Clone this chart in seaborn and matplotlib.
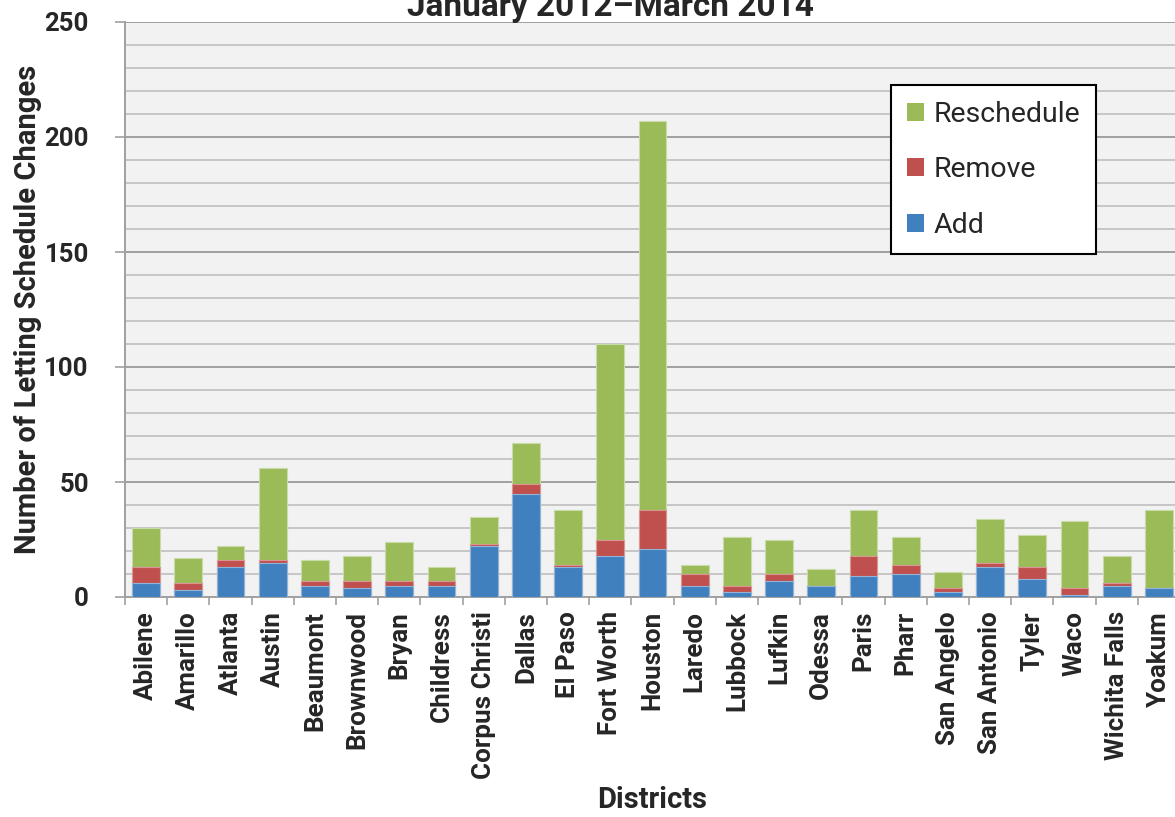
import matplotlib
matplotlib.use("Agg")
import matplotlib.pyplot as plt
import seaborn as sns
import numpy as np
import pandas as pd
from matplotlib.patches import Patch

districts = ["Abilene", "Amarillo", "Atlanta", "Austin", "Beaumont", "Brownwood",
             "Bryan", "Childress", "Corpus Christi", "Dallas", "El Paso", "Fort Worth",
             "Houston", "Laredo", "Lubbock", "Lufkin", "Odessa", "Paris", "Pharr",
             "San Angelo", "San Antonio", "Tyler", "Waco", "Wichita Falls", "Yoakum"]
add_vals = [6, 3, 13, 15, 5, 4, 5, 5, 22, 45, 13, 18, 21, 5, 2, 7, 5, 9, 10, 2, 13, 8, 1, 5, 4]
remove_vals = [7, 3, 3, 1, 2, 3, 2, 2, 1, 4, 1, 7, 17, 5, 3, 3, 0, 9, 4, 2, 2, 5, 3, 1, 0]
reschedule_vals = [17, 11, 6, 40, 9, 11, 17, 6, 12, 18, 24, 85, 169, 4, 21, 15, 7, 20, 12, 7, 19, 14, 29, 12, 34]

title_text = "January 2012\u2013March 2014"
y_label = "Number of Letting Schedule Changes"
x_label = "Districts"
y_ticks = [0, 50, 100, 150, 200, 250]

c_add = "#4080BF"
c_remove = "#C0504D"
c_resched = "#9BBB59"

df = pd.DataFrame({"District": districts, "Add": add_vals,
                   "Remove": remove_vals, "Reschedule": reschedule_vals})
df["lvl2"] = df["Add"] + df["Remove"]
df["lvl3"] = df["lvl2"] + df["Reschedule"]

sns.set_theme(style="white")
plt.rcParams["font.family"] = ["Roboto", "DejaVu Sans"]

fig = plt.figure(figsize=(11.75, 8.17), dpi=100)
ax = fig.add_axes([125 / 1175, 1 - 597 / 817, 1055 / 1175, 575 / 817])
ax.set_facecolor("#F2F2F2")

bw = 0.66
sns.barplot(data=df, x="District", y="lvl3", color=c_resched, width=bw, saturation=1,
            edgecolor="#C9DBA6", linewidth=0.8, ax=ax, zorder=3)
sns.barplot(data=df, x="District", y="lvl2", color=c_remove, width=bw, saturation=1,
            edgecolor="#D99694", linewidth=0.8, ax=ax, zorder=4)
sns.barplot(data=df, x="District", y="Add", color=c_add, width=bw, saturation=1,
            edgecolor="#95B3D7", linewidth=0.8, ax=ax, zorder=5)

ax.set_xlim(-0.5, len(districts) - 0.5)
ax.set_ylim(0, 250)
ax.set_yticks(y_ticks)
ax.set_yticks([v for v in range(0, 251, 10) if v % 50 != 0], minor=True)
ax.set_yticklabels([str(v) for v in y_ticks], fontsize=18.5, fontweight="bold")
ax.set_xticks(range(len(districts)))
ax.set_xticklabels(districts, rotation=90, fontsize=18.7, fontweight="bold")
ax.set_xticks(np.arange(-0.5, len(districts), 1.0), minor=True)

ax.set_axisbelow(True)
ax.yaxis.grid(True, which="major", color="#A0A0A0", linewidth=1.4)
ax.yaxis.grid(True, which="minor", color="#C6C6C6", linewidth=1.4)
ax.xaxis.grid(False)

ax.tick_params(axis="y", which="major", direction="out", length=7, width=1.2,
               color="#A0A0A0", pad=19, left=True)
ax.tick_params(axis="y", which="minor", length=0)
ax.tick_params(axis="x", which="major", length=0, pad=10)
ax.tick_params(axis="x", which="minor", direction="out", length=6, width=1.2,
               color="#A0A0A0", bottom=True)

for side in ["top", "right"]:
    ax.spines[side].set_visible(False)
for side in ["left", "bottom"]:
    ax.spines[side].set_color("#A0A0A0")
    ax.spines[side].set_linewidth(1.4)

ax.set_ylabel(y_label, fontsize=21, fontweight="bold", va="center")
ax.yaxis.set_label_coords((28 - 125) / 1055, 0.5)
ax.set_xlabel(x_label, fontsize=21, fontweight="bold", va="center")
ax.xaxis.set_label_coords(0.5, -(800 - 597) / 575)

fig.text(610 / 1175, 1 - 16 / 817, title_text, ha="center", va="baseline",
         fontsize=24, fontweight="bold")

handles = [Patch(facecolor=c_resched, edgecolor="none", label="Reschedule"),
           Patch(facecolor=c_remove, edgecolor="none", label="Remove"),
           Patch(facecolor=c_add, edgecolor="none", label="Add")]
leg = ax.legend(handles=handles, loc="upper left",
                bbox_to_anchor=((891 - 125) / 1055, 1 - (85 - 22) / 575),
                fontsize=20.5, frameon=True, fancybox=False, framealpha=1,
                edgecolor="black", handlelength=0.6, handleheight=0.6,
                handletextpad=0.35, labelspacing=1.0, borderpad=0.55,
                borderaxespad=0)
leg.get_frame().set_linewidth(1.5)
leg.set_zorder(10)

fig.savefig("out.png", dpi=100)
